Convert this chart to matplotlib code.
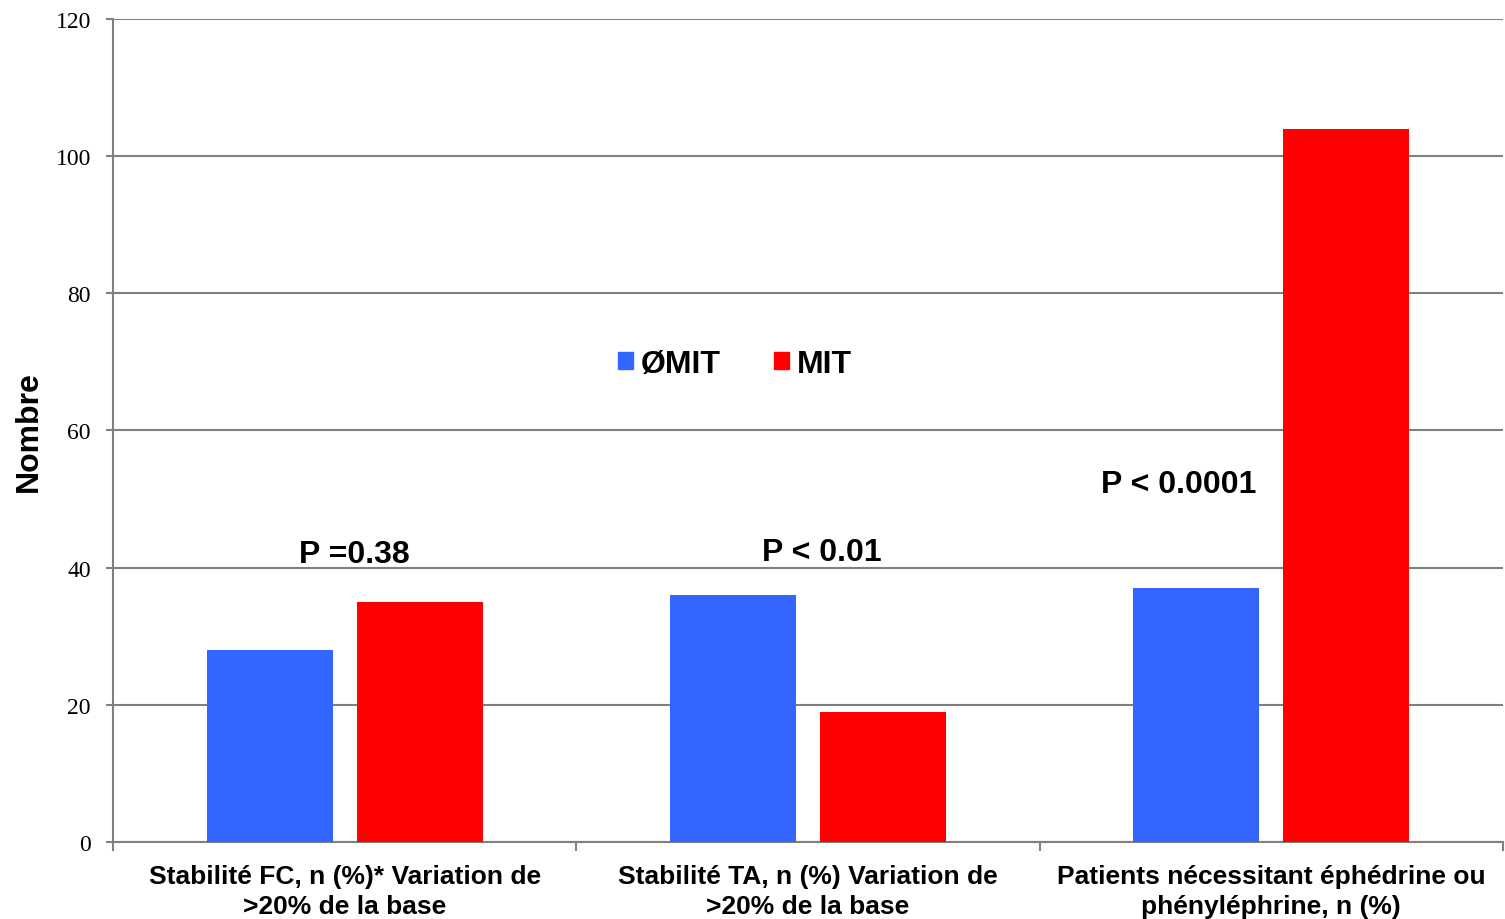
import numpy as np
import matplotlib.pyplot as plt
from matplotlib.patches import Patch

categories = ['Stabilité FC, n (%)* Variation de\n>20% de la base',
              'Stabilité TA, n (%) Variation de\n>20% de la base',
              'Patients nécessitant éphédrine ou\nphényléphrine, n (%)']
sans_mit = [28, 36, 37]
mit = [35, 19, 104]
p_textes = ['P =0.38', 'P < 0.01', 'P < 0.0001']
p_hauteurs = [42, 42.3, 52.2]
p_decalage = [0.02, 0.03, -0.2]

bleu = '#3366ff'
rouge = '#ff0000'
gris = '#808080'

fig = plt.figure(figsize=(15.05, 9.2), dpi=100)
ax = fig.add_axes([0.0751, 0.0837, 0.9236, 0.8946])

x = np.arange(len(categories))
largeur = 0.272
ecart = 0.162
ax.bar(x - ecart, sans_mit, largeur, color=bleu, zorder=3)
ax.bar(x + ecart, mit, largeur, color=rouge, zorder=3)

ax.set_xlim(-0.5, len(categories) - 0.5)
ax.set_ylim(0, 120)
ax.set_yticks(range(0, 121, 20))
ax.grid(axis='y', color=gris, linewidth=1.5, zorder=0)

# ticks x aux limites des categories, labels au centre
ax.set_xticks(np.arange(-0.5, len(categories)), minor=False)
ax.set_xticklabels([])
ax.set_xticks(x, minor=True)
ax.set_xticklabels(categories, minor=True, fontsize=19, fontweight='bold',
                   family='Liberation Sans', linespacing=1.3)
ax.tick_params(axis='x', which='minor', length=0, pad=16)
ax.tick_params(axis='x', which='major', length=6.5, color=gris, width=1.5)
ax.tick_params(axis='y', length=5, color=gris, width=1.5, pad=11)
for lab in ax.get_yticklabels():
    lab.set_family('Liberation Serif')
    lab.set_fontsize(17)

for s in ['top', 'right']:
    ax.spines[s].set_visible(False)
for s in ['left', 'bottom']:
    ax.spines[s].set_color(gris)
    ax.spines[s].set_linewidth(1.5)

ax.set_ylabel('Nombre', fontsize=23, fontweight='bold', family='Liberation Sans', labelpad=8)

for i, t in enumerate(p_textes):
    ax.text(i + p_decalage[i], p_hauteurs[i], t, ha='center', va='center',
            fontsize=23, fontweight='bold', family='Liberation Sans')

poignees = [Patch(color=bleu), Patch(color=rouge)]
ax.legend(poignees, ['ØMIT', 'MIT'], loc='center', bbox_to_anchor=(0.4474, 0.581),
          ncol=2, frameon=False, handlelength=0.47, handleheight=0.47,
          handletextpad=0.25, columnspacing=1.65,
          prop={'family': 'Liberation Sans', 'weight': 'bold', 'size': 23})

fig.savefig('out.png', dpi=100)
